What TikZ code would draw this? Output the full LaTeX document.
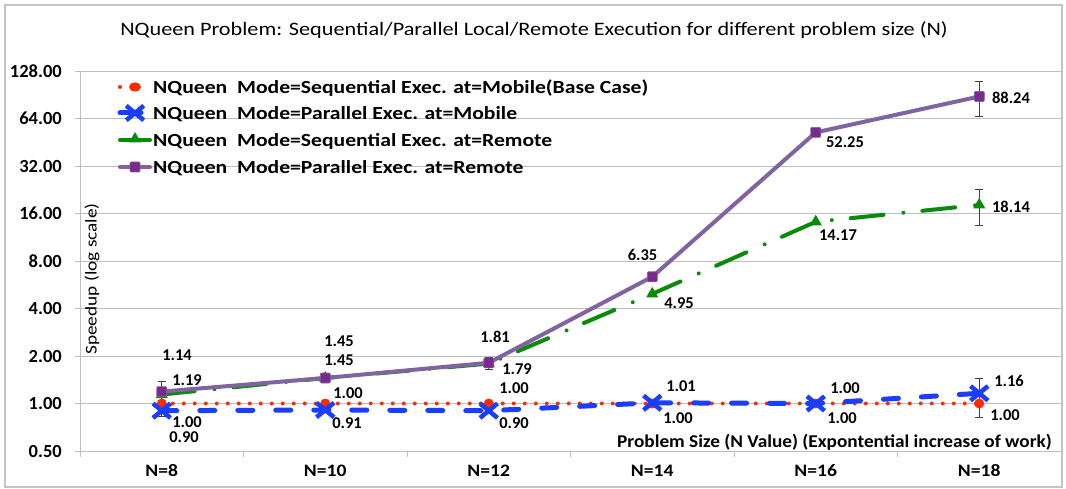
\documentclass[tikz,border=0pt]{standalone}
\usepackage{graphicx}
\usepackage{fontspec}
\setmainfont{Carlito}
\usetikzlibrary{shapes.geometric,shapes.misc}
\newcommand{\myhs}[2]{\scalebox{#1}[1]{#2}}
\definecolor{cred}{HTML}{FF2A00}
\definecolor{cblue}{HTML}{1A3DFF}
\definecolor{cgreen}{HTML}{0A8A0A}
\definecolor{cpurl}{HTML}{8064A2}
\definecolor{cpurm}{HTML}{7A2A8C}
\definecolor{cgrid}{HTML}{BFBFBF}
\definecolor{cframe}{HTML}{C4C4C4}
\definecolor{cerr}{HTML}{404040}
\begin{document}
\begin{tikzpicture}[x=1pt,y=-1pt,
  grid/.style={draw=cgrid, line width=0.9pt},
  ylab/.style={font=\bfseries\fontsize{18.5}{20}\selectfont, inner sep=0pt, anchor=east},
  xlab/.style={font=\bfseries\fontsize{17.5}{20}\selectfont, inner sep=0pt},
  dlab/.style={font=\bfseries\fontsize{16.5}{18}\selectfont, inner sep=0pt},
  leglab/.style={font=\bfseries\fontsize{18.5}{20}\selectfont, inner sep=0pt, anchor=west},
  redline/.style={draw=cred, line width=4pt, line cap=round, dash pattern=on 0pt off 11pt},
  blueline/.style={draw=cblue, line width=5pt, line cap=round, dash pattern=on 15pt off 23pt},
  greenline/.style={draw=cgreen, line width=4pt, line cap=round, dash pattern=on 33pt off 20pt on 0pt off 19pt},
  purline/.style={draw=cpurl, line width=4pt, line join=round},
  redmark/.style={circle, fill=cred, minimum size=10pt, inner sep=0pt},
  bluemark/.style={cross out, draw=cblue, line width=4.5pt, minimum width=13pt, minimum height=10pt, inner sep=0pt},
  greenmark/.style={regular polygon, regular polygon sides=3, fill=cgreen, minimum size=14pt, inner sep=0pt},
  purmark/.style={rectangle, rounded corners=1pt, fill=cpurm, draw=cpurl, line width=0.6pt, minimum size=10pt, inner sep=0pt},
  errbar/.style={draw=cerr, line width=0.8pt}
]
\useasboundingbox (0,0) rectangle (1066,489);
\fill[white] (0,0) rectangle (1066,489);
\draw[draw=cframe, line width=1.5pt] (5,5) rectangle (1062,487);

% title
\node[font=\fontsize{19}{22}\selectfont, inner sep=0pt] (title) at (534,30)
  {\myhs{1.17}{NQueen Problem: Sequential/Parallel Local/Remote Execution for different problem size (N)}};

% grid and y ticks
\foreach \k in {0,...,7} \draw[grid] (80,{403.5-47.5*\k}) -- (1061,{403.5-47.5*\k});
\draw[grid] (80,71) -- (80,451) -- (1061,451);
\foreach \k in {-1,...,7} \draw[grid] (75,{403.5-47.5*\k}) -- (80,{403.5-47.5*\k});
\foreach \i in {0,...,6} \draw[grid] ({80+163.5*\i},451) -- ({80+163.5*\i},457);
\foreach \k/\t in {-1/0.50,0/1.00,1/2.00,2/4.00,3/8.00,4/16.00,5/32.00,6/64.00,7/128.00}
  \node[ylab] (yt\k) at (62,{403.5-47.5*\k}) {\t};

% x labels
\foreach \i/\t in {0/8,1/10,2/12,3/14,4/16,5/18}
  \node[xlab] (xl\i) at ({161.75+163.5*\i},471) {\myhs{1.12}{N=\t}};

% axis titles
\node[rotate=90, font=\fontsize{16.5}{20}\selectfont, inner sep=0pt] (ytitle) at (92,279) {\myhs{1.17}{Speedup (log scale)}};
\node[anchor=east, font=\bfseries\fontsize{18}{20}\selectfont, inner sep=0pt] (xtitle) at (1052,442)
  {\myhs{1.07}{Problem Size (N Value) (Expontential increase of work)}};

% data coordinates
\coordinate (r1) at (161.75,403.5); \coordinate (r2) at (325.25,403.5); \coordinate (r3) at (488.75,403.5);
\coordinate (r4) at (652.25,403.5); \coordinate (r5) at (815.75,403.5); \coordinate (r6) at (979.25,403.5);
\coordinate (b1) at (161.75,410.7); \coordinate (b2) at (325.25,410.0); \coordinate (b3) at (488.75,410.7);
\coordinate (b4) at (652.25,402.8); \coordinate (b5) at (815.75,403.5); \coordinate (b6) at (979.25,393.3);
\coordinate (g1) at (161.75,394.5); \coordinate (g2) at (325.25,378.0); \coordinate (g3) at (488.75,363.6);
\coordinate (g4) at (652.25,293.9); \coordinate (g5) at (815.75,221.8); \coordinate (g6) at (979.25,204.9);
\coordinate (p1) at (161.75,391.6); \coordinate (p2) at (325.25,378.0); \coordinate (p3) at (488.75,362.8);
\coordinate (p4) at (652.25,276.8); \coordinate (p5) at (815.75,132.4); \coordinate (p6) at (979.25,96.5);

% error bars
\coordinate (e1t) at (161.75,381); \coordinate (e1b) at (161.75,416);
\coordinate (e3t) at (488.75,357); \coordinate (e3b) at (488.75,369);
\coordinate (e6pt) at (979.25,81); \coordinate (e6pb) at (979.25,116);
\coordinate (e6gt) at (979.25,189); \coordinate (e6gb) at (979.25,225.5);
\coordinate (e6bt) at (979.25,378); \coordinate (e6bb) at (979.25,417);
\foreach \a/\b in {e1t/e1b,e3t/e3b,e6pt/e6pb,e6gt/e6gb,e6bt/e6bb}{
  \draw[errbar] (\a) -- (\b);
  \draw[errbar] ([xshift=-4pt]\a) -- ([xshift=4pt]\a);
  \draw[errbar] ([xshift=-4pt]\b) -- ([xshift=4pt]\b);
}

% series lines and markers
\draw[redline] (r1) -- (r2) -- (r3) -- (r4) -- (r5) -- (r6);
\foreach \n in {1,...,6} \node[redmark] (rm\n) at (r\n) {};
\draw[blueline] (b1) -- (b2) -- (b3) -- (b4) -- (b5) -- (b6);
\foreach \n in {1,...,6} \node[bluemark] (bm\n) at (b\n) {};
\draw[greenline] (g1) -- (g2) -- (g3) -- (g4) -- (g5) -- (g6);
\foreach \n in {1,...,6} \node[greenmark] (gm\n) at (g\n) {};
\draw[purline] (p1) -- (p2) -- (p3) -- (p4) -- (p5) -- (p6);
\foreach \n in {1,...,6} \node[purmark] (pm\n) at (p\n) {};

% data labels
\node[dlab] (l1a) at (177,355) {1.14};
\node[dlab] (l1b) at (187,380) {1.19};
\node[dlab] (l1c) at (187,422) {1.00};
\node[dlab] (l1d) at (184,437) {0.90};
\node[dlab] (l2a) at (339,341) {1.45};
\node[dlab] (l2b) at (339,360) {1.45};
\node[dlab] (l2c) at (348,393) {1.00};
\node[dlab] (l2d) at (347,423) {0.91};
\node[dlab] (l3a) at (495,337) {1.81};
\node[dlab] (l3b) at (517,369) {1.79};
\node[dlab] (l3c) at (514,388) {1.00};
\node[dlab] (l3d) at (514,423) {0.90};
\node[dlab] (l4a) at (642.5,255) {6.35};
\node[dlab] (l4b) at (679,303) {4.95};
\node[dlab] (l4c) at (681,386) {1.01};
\node[dlab] (l4d) at (678,418) {1.00};
\node[dlab] (l5a) at (845,142) {52.25};
\node[dlab] (l5b) at (838,235) {14.17};
\node[dlab] (l5c) at (845,388) {1.00};
\node[dlab] (l5d) at (842,418) {1.00};
\node[dlab] (l6a) at (1011,97.5) {88.24};
\node[dlab] (l6b) at (1011,207) {18.14};
\node[dlab] (l6c) at (1009,381) {1.16};
\node[dlab] (l6d) at (1005,415) {1.00};

% legend
\coordinate (lr0) at (120,87); \coordinate (lr1) at (131,87);
\draw[redline] (lr0) -- (lr1);
\node[redmark, minimum width=12pt, minimum height=9pt, ellipse] (lrm) at (135,87) {};
\node[leglab] (lrt) at (153,88) {\myhs{1.17}{NQueen~~Mode=Sequential Exec. at=Mobile(Base Case)}};
\coordinate (lb0) at (120,113); \coordinate (lb1) at (141,113);
\draw[draw=cblue, line width=5pt, line cap=round] (lb0) -- (lb1);
\node[bluemark] (lbm) at (135,113) {};
\node[leglab] (lbt) at (153,114) {\myhs{1.17}{NQueen~~Mode=Parallel Exec. at=Mobile}};
\coordinate (lg0) at (120,140); \coordinate (lg1) at (150,140);
\draw[draw=cgreen, line width=4pt, line cap=round] (lg0) -- (lg1);
\node[greenmark] (lgm) at (135,139) {};
\node[leglab] (lgt) at (153,141) {\myhs{1.17}{NQueen~~Mode=Sequential Exec. at=Remote}};
\coordinate (lp0) at (120,167); \coordinate (lp1) at (150,167);
\draw[purline, line cap=round] (lp0) -- (lp1);
\node[purmark] (lpm) at (135,167) {};
\node[leglab] (lpt) at (153,168) {\myhs{1.17}{NQueen~~Mode=Parallel Exec. at=Remote}};
\end{tikzpicture}
\end{document}
